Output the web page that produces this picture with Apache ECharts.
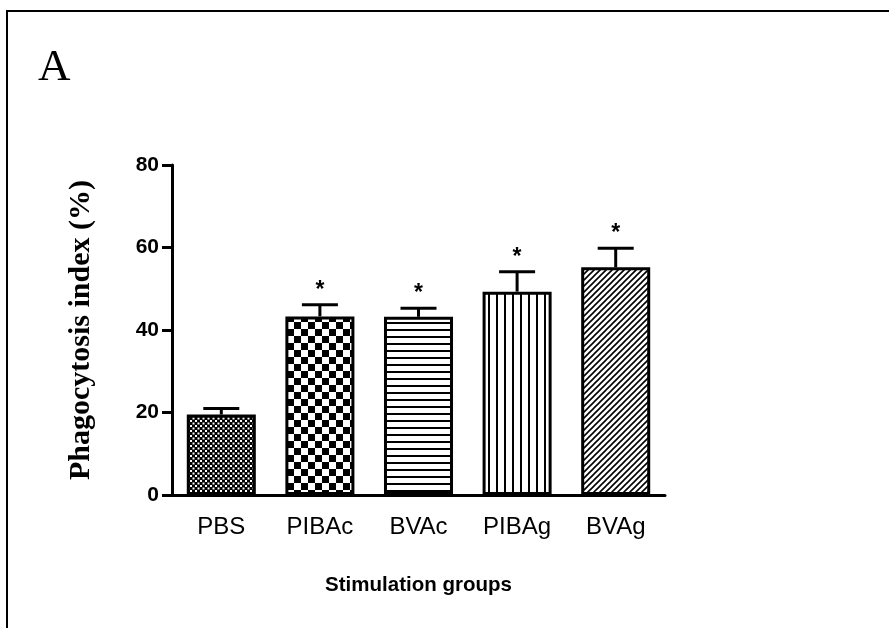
<!DOCTYPE html>
<html>
<head>
<meta charset="utf-8">
<script src="https://cdn.jsdelivr.net/npm/echarts@6/dist/echarts.min.js"></script>
<style>
  html, body { margin: 0; padding: 0; background: #fff; }
  #chart { width: 889px; height: 628px; }
</style>
</head>
<body>
<div id="chart"></div>
<script>
// Phagocytosis index per stimulation group (mean and SEM)
const groups = ['PBS', 'PIBAc', 'BVAc', 'PIBAg', 'BVAg'];
const meanValues = [19.5, 43.3, 43.2, 49.3, 55.2];
const semValues = [1.5, 2.8, 2.1, 4.8, 4.6];
const significance = ['', '*', '*', '*', '*'];
const yTicks = { min: 0, max: 80, interval: 20 };

// Monochrome fill patterns, one per group
function makeTile(w, h, draw) {
  const c = document.createElement('canvas');
  c.width = w; c.height = h;
  const ctx = c.getContext('2d');
  ctx.fillStyle = '#fff';
  ctx.fillRect(0, 0, w, h);
  ctx.fillStyle = '#000';
  ctx.strokeStyle = '#000';
  draw(ctx, w, h);
  return { image: c, repeat: 'repeat' };
}
const patterns = [
  // fine check
  makeTile(5, 5, (ctx) => {
    ctx.fillRect(0, 0, 5, 5);
    ctx.fillStyle = '#fff';
    ctx.fillRect(0, 0, 2, 2);
    ctx.fillRect(2.5, 2.5, 2, 2);
  }),
  // coarse checkerboard
  makeTile(14, 14, (ctx) => {
    ctx.fillRect(0, 0, 7, 7);
    ctx.fillRect(7, 7, 7, 7);
  }),
  // horizontal lines
  makeTile(8, 7, (ctx) => {
    ctx.fillRect(0, 0, 8, 2);
  }),
  // vertical lines
  makeTile(8, 8, (ctx) => {
    ctx.fillRect(0, 0, 2, 8);
  }),
  // diagonal hatch
  makeTile(6, 6, (ctx) => {
    ctx.lineWidth = 1.6;
    ctx.beginPath();
    ctx.moveTo(-1, 7); ctx.lineTo(7, -1);
    ctx.moveTo(-4, 4); ctx.lineTo(4, -4);
    ctx.moveTo(2, 10); ctx.lineTo(10, 2);
    ctx.stroke();
  })
];

const chart = echarts.init(document.getElementById('chart'), null, { renderer: 'canvas' });

const barData = meanValues.map((v, i) => ({
  value: v,
  itemStyle: { color: patterns[i] }
}));
const errData = meanValues.map((v, i) => [i, v, semValues[i], significance[i]]);

chart.setOption({
  animation: false,
  backgroundColor: '#fff',
  title: {
    text: 'A',
    left: 33,
    top: 41,
    textStyle: { fontFamily: 'Liberation Serif', fontSize: 45, fontWeight: 'normal', color: '#000' }
  },
  graphic: [
    { type: 'line', shape: { x1: 6, y1: 11, x2: 889, y2: 11 }, style: { stroke: '#000', lineWidth: 2 } },
    { type: 'line', shape: { x1: 7, y1: 11, x2: 7, y2: 628 }, style: { stroke: '#000', lineWidth: 2 } }
  ],
  grid: { left: 172, top: 165, width: 493, height: 330, containLabel: false },
  xAxis: {
    type: 'category',
    data: groups,
    axisLine: { lineStyle: { color: '#000', width: 3 } },
    axisTick: { alignWithLabel: true, length: 7, lineStyle: { color: '#000', width: 3 } },
    axisLabel: { color: '#000', fontFamily: 'Liberation Sans', fontSize: 24, margin: 20 },
    name: 'Stimulation groups',
    nameLocation: 'middle',
    nameGap: 80,
    nameTextStyle: { color: '#000', fontFamily: 'Liberation Sans', fontSize: 20.5, fontWeight: 'bold' }
  },
  yAxis: {
    type: 'value',
    min: yTicks.min,
    max: yTicks.max,
    interval: yTicks.interval,
    splitLine: { show: false },
    axisLine: { show: true, lineStyle: { color: '#000', width: 3 } },
    axisTick: { show: true, length: 10, lineStyle: { color: '#000', width: 3 } },
    axisLabel: { color: '#000', fontFamily: 'Liberation Sans', fontSize: 21, fontWeight: 'bold', margin: 13 },
    name: 'Phagocytosis index (%)',
    nameLocation: 'middle',
    nameGap: 76,
    nameTextStyle: { color: '#000', fontFamily: 'Liberation Serif', fontSize: 30, fontWeight: 'bold' }
  },
  series: [
    {
      type: 'bar',
      data: barData,
      barWidth: '70%',
      itemStyle: { borderColor: '#000', borderWidth: 3 },
      z: 2
    },
    {
      type: 'custom',
      data: errData,
      z: 3,
      renderItem: function (params, api) {
        const idx = api.value(0);
        const mean = api.value(1);
        const err = api.value(2);
        const mark = errData[params.dataIndex][3];
        const base = api.coord([idx, mean]);
        const top = api.coord([idx, mean + err]);
        const half = 18;
        const children = [
          { type: 'line', shape: { x1: base[0], y1: base[1], x2: top[0], y2: top[1] }, style: { stroke: '#000', lineWidth: 3 } },
          { type: 'line', shape: { x1: top[0] - half, y1: top[1], x2: top[0] + half, y2: top[1] }, style: { stroke: '#000', lineWidth: 3 } }
        ];
        if (mark) {
          children.push({
            type: 'text',
            style: {
              text: mark, x: top[0], y: top[1] - 3,
              align: 'center', verticalAlign: 'bottom',
              font: 'bold 23px "Liberation Sans"', fill: '#000'
            }
          });
        }
        return { type: 'group', children: children };
      }
    }
  ]
});
</script>
</body>
</html>
